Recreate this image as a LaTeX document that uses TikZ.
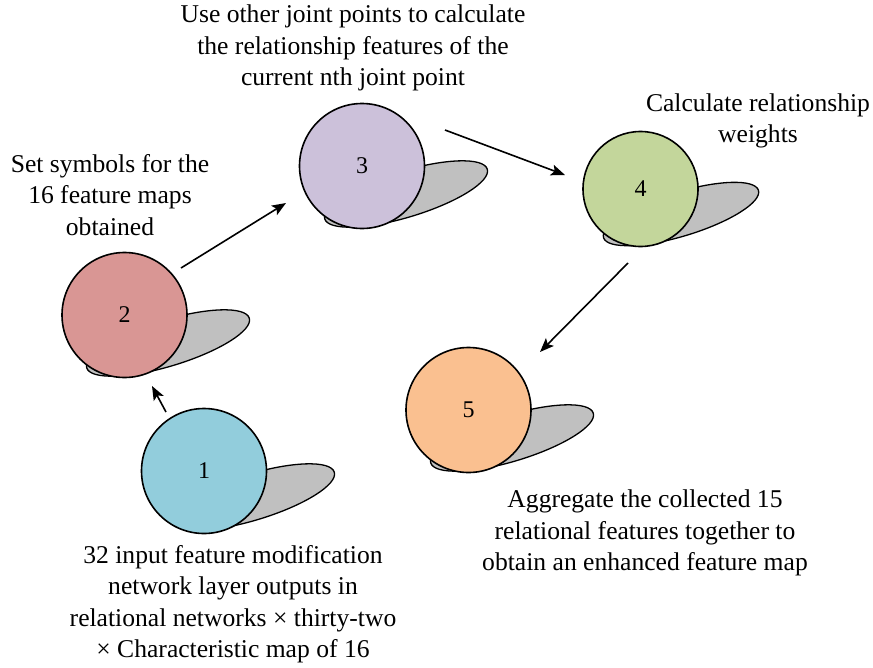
\documentclass[tikz,border=0pt]{standalone}
\usepackage{fontspec}
\setmainfont{Liberation Serif}
\usetikzlibrary{shapes.geometric,arrows.meta}
\definecolor{cA}{HTML}{92CDDC}
\definecolor{cB}{HTML}{D99694}
\definecolor{cC}{HTML}{CCC1DA}
\definecolor{cD}{HTML}{C3D69B}
\definecolor{cE}{HTML}{FAC090}
\definecolor{shd}{HTML}{C0C0C0}
\tikzset{
  ball/.style={circle, draw=black, line width=1.6pt, minimum size=125pt, inner sep=0pt, font=\fontsize{24}{26}\selectfont},
  shadowell/.style={ellipse, draw=black, fill=shd, line width=1.3pt, minimum width=170pt, minimum height=46pt, rotate=17, inner sep=0pt},
  lbl/.style={align=center, font=\fontsize{25.6}{31.5}\selectfont},
  arr/.style={line width=1.6pt, -{Stealth[length=14pt,width=11pt,inset=3pt]}}
}
\begin{document}
\begin{tikzpicture}[x=1pt,y=-1pt]
\useasboundingbox (0,0) rectangle (873,667);
% shadows
\node[shadowell] (s1) at (253,497) {};
\node[shadowell] (s2) at (168,343) {};
\node[shadowell] (s3) at (406,194) {};
\node[shadowell, minimum width=162pt, minimum height=44pt] (s4) at (681,214) {};
\node[shadowell] (s5) at (512,438) {};
% circles
\node[ball, fill=cA] (c1) at (204,471) {1};
\node[ball, fill=cB] (c2) at (124.5,315) {2};
\node[ball, fill=cC] (c3) at (362,166) {3};
\node[ball, fill=cD, minimum size=115pt] (c4) at (640.5,189) {4};
\node[ball, fill=cE] (c5) at (468.5,410) {5};
% arrow end points
\coordinate (a1s) at (166,412); \coordinate (a1e) at (152,386);
\coordinate (a2s) at (181,268); \coordinate (a2e) at (286,203);
\coordinate (a3s) at (445,130); \coordinate (a3e) at (565,175);
\coordinate (a4s) at (628,263); \coordinate (a4e) at (540,352);
\draw[arr] (a1s) -- (a1e);
\draw[arr] (a2s) -- (a2e);
\draw[arr] (a3s) -- (a3e);
\draw[arr] (a4s) -- (a4e);
% labels
\node[lbl] (t3) at (353,48) {Use other joint points to calculate\\the relationship features of the\\current nth joint point};
\node[lbl] (t4) at (758,121) {Calculate relationship\\weights};
\node[lbl] (t2) at (110,195) {Set symbols for the\\16 feature maps\\obtained};
\node[lbl] (t1) at (233,604) {32 input feature modification\\network layer outputs in\\relational networks × thirty-two\\× Characteristic map of 16};
\node[lbl] (t5) at (645,533) {Aggregate the collected 15\\relational features together to\\obtain an enhanced feature map};
\end{tikzpicture}
\end{document}
